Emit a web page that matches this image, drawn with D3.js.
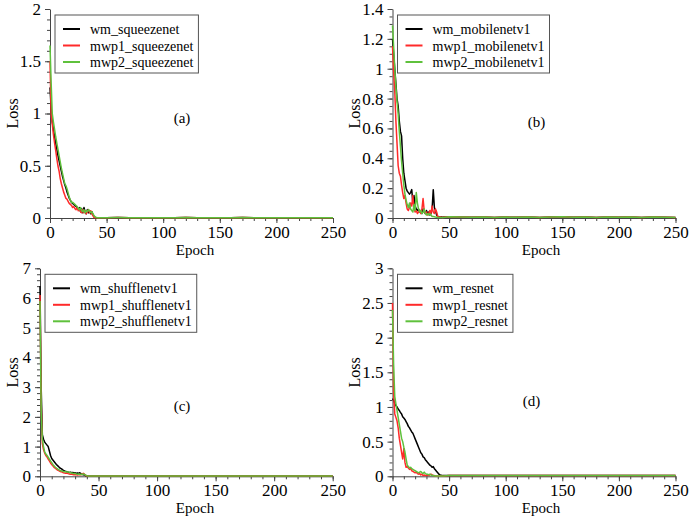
<!DOCTYPE html>
<html>
<head>
<meta charset="utf-8">
<script src="https://cdn.jsdelivr.net/npm/d3@7"></script>
<style>
  body { margin: 0; background: #fff; }
  svg { font-family: "Liberation Serif", "Times New Roman", serif; }
</style>
</head>
<body>
<svg id="chart" width="692" height="518"></svg>
<script>
// epochs 0..45 drawn one by one, then the flat tail every 10 epochs
const tailEpochs = [50, 60, 70, 80, 90, 100, 110, 120, 130, 140, 150, 160, 170, 180, 190, 200, 210, 220, 230, 240, 250];

// (a) squeezenet
const sqWm = [1.25, 1.05, 0.92, 0.85, 0.78, 0.72, 0.66, 0.6, 0.55, 0.5, 0.45, 0.4, 0.36, 0.32, 0.29, 0.25, 0.22, 0.19, 0.17, 0.15, 0.14, 0.13, 0.12, 0.11, 0.1, 0.08, 0.1, 0.06, 0.09, 0.05, 0.1, 0.06, 0.04, 0.08, 0.05, 0.07, 0.04, 0.06, 0.03, 0.01, 0.005, 0.003, 0.003, 0.003, 0.003, 0.003];
const sqMwp1 = [1.5, 1.0, 0.9, 0.8, 0.72, 0.65, 0.57, 0.5, 0.45, 0.38, 0.33, 0.29, 0.25, 0.22, 0.19, 0.18, 0.16, 0.14, 0.13, 0.12, 0.1, 0.11, 0.09, 0.08, 0.1, 0.07, 0.09, 0.06, 0.05, 0.08, 0.05, 0.07, 0.04, 0.06, 0.08, 0.05, 0.07, 0.04, 0.02, 0.005, 0.003, 0.003, 0.003, 0.003, 0.003, 0.003];
const sqMwp2 = [1.65, 1.3, 1.0, 0.92, 0.85, 0.78, 0.72, 0.66, 0.6, 0.54, 0.48, 0.43, 0.38, 0.33, 0.31, 0.28, 0.24, 0.2, 0.17, 0.15, 0.15, 0.14, 0.13, 0.12, 0.11, 0.09, 0.08, 0.1, 0.07, 0.06, 0.08, 0.05, 0.07, 0.06, 0.08, 0.07, 0.05, 0.06, 0.04, 0.02, 0.01, 0.004, 0.003, 0.003, 0.003, 0.003];
const sqTail = [0.003, 0.004, 0.003, 0.002, 0.003, 0.002, 0.003, 0.004, 0.002, 0.003, 0.002, 0.003, 0.004, 0.002, 0.003, 0.002, 0.003, 0.002, 0.003, 0.002, 0.003];

// (b) mobilenetv1
const mbWm = [1.2, 1.1, 1.0, 0.9, 0.8, 0.75, 0.65, 0.58, 0.55, 0.4, 0.3, 0.25, 0.2, 0.18, 0.17, 0.16, 0.17, 0.19, 0.1, 0.15, 0.08, 0.06, 0.05, 0.06, 0.04, 0.05, 0.03, 0.06, 0.04, 0.03, 0.05, 0.03, 0.04, 0.02, 0.03, 0.06, 0.19, 0.07, 0.05, 0.02, 0.01, 0.008, 0.006, 0.008, 0.005, 0.006];
const mbMwp1 = [1.15, 0.98, 0.85, 0.65, 0.5, 0.35, 0.3, 0.28, 0.22, 0.17, 0.13, 0.15, 0.1, 0.06, 0.05, 0.07, 0.1, 0.08, 0.15, 0.06, 0.04, 0.05, 0.03, 0.04, 0.05, 0.03, 0.06, 0.13, 0.05, 0.03, 0.04, 0.02, 0.03, 0.05, 0.03, 0.08, 0.04, 0.03, 0.06, 0.04, 0.01, 0.006, 0.005, 0.006, 0.004, 0.005];
const mbMwp2 = [1.29, 1.15, 1.0, 0.88, 0.78, 0.7, 0.58, 0.48, 0.38, 0.3, 0.22, 0.16, 0.12, 0.09, 0.07, 0.1, 0.06, 0.05, 0.04, 0.09, 0.05, 0.17, 0.1, 0.06, 0.04, 0.05, 0.03, 0.04, 0.06, 0.03, 0.02, 0.03, 0.02, 0.03, 0.02, 0.01, 0.01, 0.008, 0.006, 0.005, 0.004, 0.004, 0.003, 0.004, 0.003, 0.003];
const mbTail = [0.008, 0.006, 0.005, 0.007, 0.004, 0.006, 0.005, 0.007, 0.004, 0.006, 0.009, 0.005, 0.006, 0.004, 0.007, 0.005, 0.006, 0.004, 0.006, 0.005, 0.004];

// (c) shufflenetv1
const shWm = [6.4, 3.0, 1.4, 1.25, 1.15, 1.1, 1.05, 1.0, 0.85, 0.7, 0.6, 0.55, 0.5, 0.45, 0.4, 0.36, 0.32, 0.28, 0.26, 0.23, 0.2, 0.18, 0.16, 0.15, 0.14, 0.13, 0.14, 0.12, 0.13, 0.11, 0.12, 0.1, 0.11, 0.1, 0.12, 0.09, 0.07, 0.05, 0.04, 0.02, 0.01, 0.01, 0.01, 0.01, 0.01, 0.01];
const shMwp1 = [6.1, 2.5, 1.1, 0.9, 0.78, 0.7, 0.65, 0.58, 0.52, 0.45, 0.4, 0.35, 0.3, 0.27, 0.24, 0.21, 0.19, 0.17, 0.15, 0.14, 0.12, 0.11, 0.1, 0.11, 0.09, 0.08, 0.07, 0.08, 0.06, 0.05, 0.06, 0.05, 0.04, 0.05, 0.06, 0.05, 0.08, 0.1, 0.07, 0.03, 0.01, 0.01, 0.01, 0.01, 0.01, 0.01];
const shMwp2 = [5.9, 2.2, 1.25, 1.0, 0.82, 0.75, 0.7, 0.64, 0.58, 0.52, 0.46, 0.4, 0.35, 0.31, 0.28, 0.25, 0.22, 0.2, 0.19, 0.17, 0.16, 0.15, 0.16, 0.14, 0.15, 0.13, 0.12, 0.11, 0.1, 0.09, 0.1, 0.08, 0.07, 0.08, 0.06, 0.07, 0.06, 0.08, 0.06, 0.04, 0.02, 0.01, 0.01, 0.01, 0.01, 0.01];
const shTail = [0.01, 0.01, 0.01, 0.01, 0.01, 0.01, 0.01, 0.01, 0.01, 0.01, 0.01, 0.01, 0.01, 0.01, 0.01, 0.01, 0.01, 0.01, 0.01, 0.01, 0.01];

// (d) resnet
const rnWm = [1.12, 1.1, 1.05, 1.02, 1.0, 0.97, 0.95, 0.92, 0.9, 0.86, 0.84, 0.82, 0.79, 0.76, 0.72, 0.7, 0.67, 0.64, 0.62, 0.58, 0.54, 0.5, 0.46, 0.42, 0.38, 0.34, 0.32, 0.28, 0.27, 0.24, 0.22, 0.2, 0.18, 0.16, 0.15, 0.13, 0.14, 0.11, 0.09, 0.07, 0.05, 0.03, 0.02, 0.015, 0.01, 0.01];
const rnMwp1 = [2.5, 1.2, 0.9, 0.85, 0.8, 0.7, 0.55, 0.45, 0.35, 0.25, 0.4, 0.2, 0.13, 0.14, 0.12, 0.1, 0.11, 0.08, 0.07, 0.06, 0.05, 0.06, 0.04, 0.03, 0.04, 0.02, 0.03, 0.01, 0.02, 0.01, 0.01, 0.02, 0.01, 0.02, 0.03, 0.02, 0.01, 0.01, 0.005, 0.005, 0.005, 0.005, 0.005, 0.005, 0.005, 0.005];
const rnMwp2 = [2.4, 1.6, 1.15, 1.05, 0.95, 0.85, 0.75, 0.65, 0.55, 0.5, 0.42, 0.35, 0.25, 0.16, 0.14, 0.12, 0.13, 0.11, 0.1, 0.09, 0.08, 0.07, 0.06, 0.05, 0.06, 0.07, 0.05, 0.04, 0.06, 0.04, 0.03, 0.03, 0.02, 0.03, 0.02, 0.01, 0.01, 0.008, 0.006, 0.006, 0.006, 0.006, 0.006, 0.006, 0.006, 0.006];
const rnTail = [0.01, 0.012, 0.01, 0.011, 0.01, 0.012, 0.01, 0.011, 0.01, 0.012, 0.01, 0.011, 0.01, 0.012, 0.01, 0.011, 0.012, 0.01, 0.011, 0.01, 0.01];

const colors = ['#000000', '#ff2a2a', '#5fc13c'];

const panels = [
  {tag: '(a)', names: ['wm_squeezenet', 'mwp1_squeezenet', 'mwp2_squeezenet'],
   series: [sqWm, sqMwp1, sqMwp2], tail: sqTail,
   yMax: 2, yMajor: 0.5, yMinor: 0.1, left: 50, top: 9, bottom: 218, right: 333,
   tagX: 132, tagY: 114, labelX: 12, epochX: 195},
  {tag: '(b)', names: ['wm_mobilenetv1', 'mwp1_mobilenetv1', 'mwp2_mobilenetv1'],
   series: [mbWm, mbMwp1, mbMwp2], tail: mbTail,
   yMax: 1.4, yMajor: 0.2, yMinor: 0.05, left: 392.5, top: 9, bottom: 218, right: 675.5,
   tagX: 144, tagY: 118, labelX: 354, epochX: 541},
  {tag: '(c)', names: ['wm_shufflenetv1', 'mwp1_shufflenetv1', 'mwp2_shufflenetv1'],
   series: [shWm, shMwp1, shMwp2], tail: shTail,
   yMax: 7, yMajor: 1, yMinor: 0.2, left: 40, top: 268.3, bottom: 476.3, right: 332.7,
   tagX: 142, tagY: 143, labelX: 12, epochX: 195},
  {tag: '(d)', names: ['wm_resnet', 'mwp1_resnet', 'mwp2_resnet'],
   series: [rnWm, rnMwp1, rnMwp2], tail: rnTail,
   yMax: 3, yMajor: 0.5, yMinor: 0.1, left: 392.5, top: 268.3, bottom: 476.3, right: 675.5,
   tagX: 139, tagY: 138, labelX: 354, epochX: 541}
];

const svg = d3.select('#chart');

const drawPanel = p => {
  const x = d3.scaleLinear().domain([0, 250]).range([p.left, p.right]);
  const y = d3.scaleLinear().domain([0, p.yMax]).range([p.bottom, p.top]);
  const g = svg.append('g');

  // minor ticks first, then major axes on top
  const minorX = d3.range(0, 250.001, 10);
  const minorY = d3.range(0, p.yMax + 1e-6, p.yMinor);

  g.append('g')
    .attr('transform', `translate(0,${p.bottom})`)
    .call(d3.axisBottom(x).tickValues(minorX).tickSize(3).tickFormat(''))
    .call(a => a.select('.domain').remove());

  g.append('g')
    .attr('transform', `translate(${p.left},0)`)
    .call(d3.axisLeft(y).tickValues(minorY).tickSize(3).tickFormat(''))
    .call(a => a.select('.domain').remove());

  g.append('g')
    .attr('transform', `translate(0,${p.bottom})`)
    .call(d3.axisBottom(x).tickValues(d3.range(0, 251, 50)).tickSize(5).tickSizeOuter(0).tickPadding(3));

  g.append('g')
    .attr('transform', `translate(${p.left},0)`)
    .call(d3.axisLeft(y).tickValues(d3.range(0, p.yMax + 1e-6, p.yMajor)).tickSize(5).tickSizeOuter(0)
      .tickPadding(4).tickFormat(d3.format('~g')));

  g.selectAll('.tick text')
    .style('font-family', '"Liberation Serif", serif')
    .style('font-size', '17px')
    .attr('fill', '#000');
  g.selectAll('.domain, .tick line').attr('stroke', '#444');

  // curves
  const line = d3.line().x(d => x(d[0])).y(d => y(d[1]));
  p.series.forEach((s, i) => {
    const pts = s.map((v, e) => [e, v]).concat(tailEpochs.map((e, k) => [e, p.tail[k]]));
    g.append('path')
      .datum(pts)
      .attr('fill', 'none')
      .attr('stroke', colors[i])
      .attr('stroke-width', 1.5)
      .attr('stroke-linejoin', 'round')
      .attr('d', line);
  });

  // axis labels
  g.append('text')
    .attr('transform', `translate(${p.labelX},${(p.top + p.bottom) / 2}) rotate(-90)`)
    .attr('text-anchor', 'middle')
    .attr('dy', '0.35em')
    .style('font-size', '16px')
    .text('Loss');

  g.append('text')
    .attr('x', p.epochX)
    .attr('y', p.bottom + 37)
    .attr('text-anchor', 'middle')
    .style('font-size', '15px')
    .text('Epoch');

  g.append('text')
    .attr('x', p.left + p.tagX)
    .attr('y', p.top + p.tagY)
    .attr('text-anchor', 'middle')
    .style('font-size', '15px')
    .text(p.tag);

  // legend
  const lg = g.append('g').attr('transform', `translate(${p.left + 5},${p.top + 6})`);
  const box = lg.append('rect')
    .attr('fill', '#fff')
    .attr('stroke', '#555')
    .attr('stroke-width', 1);
  const texts = [];
  p.names.forEach((n, i) => {
    const cy = 14 + i * 16.5;
    lg.append('line')
      .attr('x1', 8).attr('x2', 25)
      .attr('y1', cy).attr('y2', cy)
      .attr('stroke', colors[i])
      .attr('stroke-width', 2);
    texts.push(lg.append('text')
      .attr('x', 35).attr('y', cy + 5)
      .style('font-size', '14px')
      .text(n));
  });
  const w = d3.max(texts, t => t.node().getComputedTextLength());
  box.attr('width', 35 + w + 5).attr('height', 58);
};

panels.forEach(drawPanel);
</script>
</body>
</html>
